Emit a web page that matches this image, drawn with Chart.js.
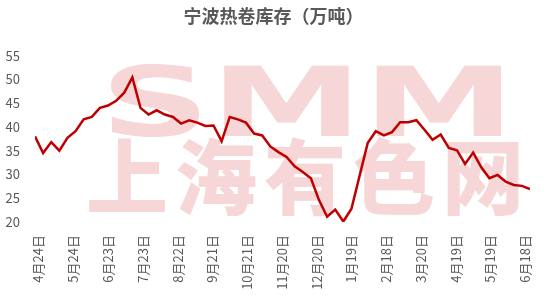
<!DOCTYPE html>
<html>
<head>
<meta charset="utf-8">
<script src="https://cdn.jsdelivr.net/npm/chart.js@4"></script>
<style>
  html, body { margin: 0; padding: 0; background: #fff; }
  #wrap { width: 554px; height: 305px; }
</style>
</head>
<body>
<div id="wrap"><canvas id="chart" width="554" height="305"></canvas></div>
<script>
// weekly stock, first reading 3 days before 4月24日
const titleText = '宁波热卷库存（万吨）';
const firstDay = -3;
const stock = [
  38.0, 34.5, 36.8, 35.0, 37.7, 39.1, 41.6, 42.1, 44.0, 44.5,
  45.5, 47.2, 50.4, 44.0, 42.6, 43.5, 42.6, 42.1, 40.7, 41.4,
  40.9, 40.2, 40.3, 37.0, 42.1, 41.6, 40.9, 38.6, 38.2, 35.9,
  34.7, 33.7, 31.7, 30.5, 29.2, 24.6, 21.1, 22.6, 20.1, 22.8,
  29.7, 36.6, 39.1, 38.2, 38.9, 41.0, 41.0, 41.4, 39.4, 37.3,
  38.4, 35.6, 35.1, 32.2, 34.6, 31.5, 29.2, 29.9, 28.5, 27.8,
  27.6, 26.9
];
const tickLabels = [
  '4月24日', '5月24日', '6月23日', '7月23日', '8月22日', '9月21日', '10月21日',
  '11月20日', '12月20日', '1月19日', '2月18日', '3月20日', '4月19日', '5月19日', '6月18日'
];
const tickStep = 30; // days between labels
const yMin = 20, yMax = 55, yStep = 5;

const points = stock.map((v, i) => ({ x: firstDay + i * 7, y: v }));
const tickDays = tickLabels.map((_, i) => i * tickStep);
const font = '"Noto Sans CJK SC", "Noto Sans", sans-serif';

// SMM 上海有色网 watermark behind the line
const watermark = {
  id: 'watermark',
  beforeDatasetsDraw(chart) {
    const ctx = chart.ctx;
    ctx.save();
    ctx.fillStyle = '#f6d6d6';
    ctx.font = 'bold 96px "DejaVu Sans"';
    ctx.textBaseline = 'alphabetic';
    const w = ctx.measureText('SMM').width;
    ctx.translate(100, 136);
    ctx.scale(415 / w, 1);
    ctx.fillText('SMM', 0, 0);
    ctx.restore();

    ctx.save();
    ctx.fillStyle = '#f6d6d6';
    ctx.font = '900 82px "Noto Sans CJK SC"';
    ctx.textAlign = 'center';
    ctx.textBaseline = 'middle';
    Array.from('上海有色网').forEach((ch, i) => {
      ctx.fillText(ch, 127 + i * 89, 177);
    });
    ctx.restore();
  }
};

new Chart(document.getElementById('chart').getContext('2d'), {
  type: 'line',
  data: {
    datasets: [{
      data: points,
      borderColor: '#c00000',
      borderWidth: 2.5,
      pointRadius: 0,
      tension: 0,
      fill: false
    }]
  },
  options: {
    responsive: false,
    animation: false,
    layout: { padding: { left: 0, right: 7, top: 0, bottom: 0 } },
    plugins: {
      legend: { display: false },
      tooltip: { enabled: false },
      title: {
        display: true,
        text: titleText,
        color: '#595959',
        font: { family: font, size: 18, weight: 'bold' },
        padding: { top: 5, bottom: 29 }
      }
    },
    scales: {
      x: {
        type: 'linear',
        min: firstDay,
        max: firstDay + (stock.length - 1) * 7,
        afterBuildTicks: scale => {
          scale.ticks = tickDays.map(v => ({ value: v }));
        },
        afterFit: scale => { scale.height = 83; },
        grid: { display: false, drawTicks: false },
        border: { display: false },
        ticks: {
          autoSkip: false,
          maxRotation: 90,
          minRotation: 90,
          padding: 13,
          color: '#595959',
          font: { family: font, size: 13 },
          callback: v => tickLabels[tickDays.indexOf(v)]
        }
      },
      y: {
        min: yMin,
        max: yMax,
        afterFit: scale => { scale.width = 35; },
        grid: { display: false, drawTicks: false },
        border: { display: false },
        ticks: {
          stepSize: yStep,
          padding: 15,
          color: '#595959',
          font: { family: font, size: 13 }
        }
      }
    }
  },
  plugins: [watermark]
});
</script>
</body>
</html>
